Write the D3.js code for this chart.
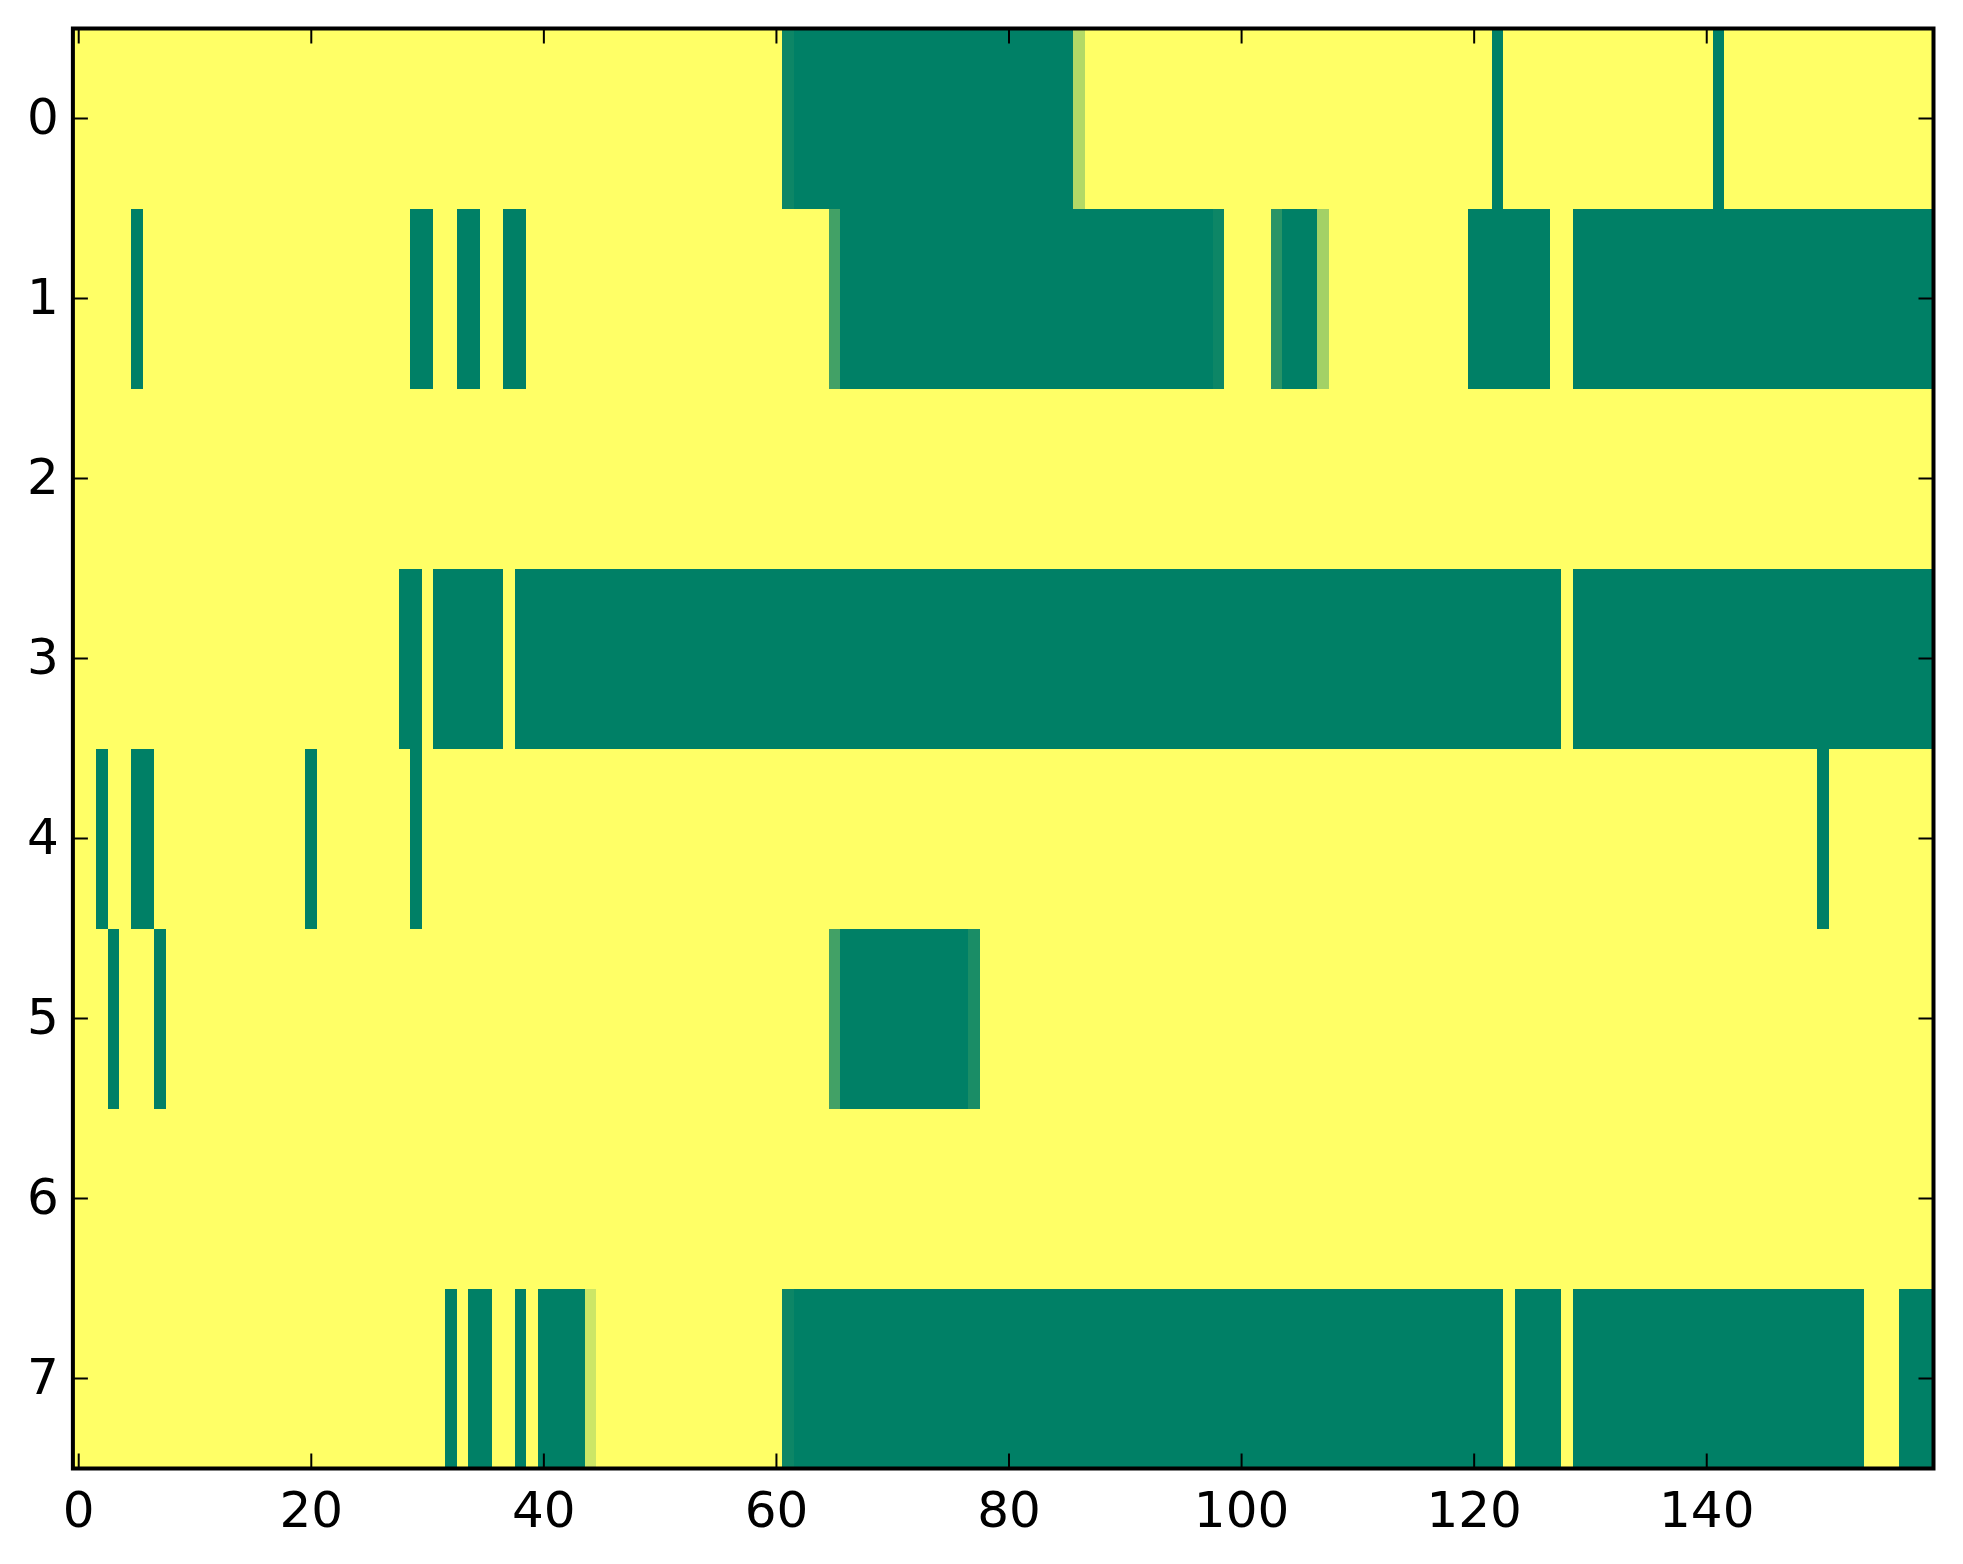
<!DOCTYPE html>
<html>
<head>
<meta charset="utf-8">
<script src="https://cdn.jsdelivr.net/npm/d3@7/dist/d3.min.js"></script>
<style>
  html, body { margin: 0; padding: 0; background: #ffffff; }
  svg { display: block; }
  text { font-family: "DejaVu Sans", sans-serif; }
</style>
</head>
<body>
<svg id="chart" width="1963" height="1564"></svg>
<script>
// Heatmap (imshow, "summer" colormap) — 8 rows x 160 columns.
// Each row is written as runs of [value, number of consecutive columns].
const rowLabels = [0, 1, 2, 3, 4, 5, 6, 7];
const xTickValues = [0, 20, 40, 60, 80, 100, 120, 140];
const nCols = 160;

const row0 = [[1,61],[0.05,1],[0,24],[0.7,1],[1,35],[0,1],[1,18],[0,1],[1,18]];
const row1 = [[1,5],[0,1],[1,23],[0,2],[1,2],[0,2],[1,2],[0,2],[1,26],[0.26,1],[0,32],[0.05,1],[1,4],[0.16,1],[0,3],[0.64,1],[1,12],[0,7],[1,2],[0,31]];
const row2 = [[1,160]];
const row3 = [[1,28],[0,2],[1,1],[0,6],[1,1],[0,90],[1,1],[0,31]];
const row4 = [[1,2],[0,1],[1,2],[0,2],[1,13],[0,1],[1,8],[0,1],[1,120],[0,1],[1,9]];
const row5 = [[1,3],[0,1],[1,3],[0,1],[1,57],[0.26,1],[0,11],[0.1,1],[1,82]];
const row6 = [[1,160]];
const row7 = [[1,32],[0,1],[1,1],[0,2],[1,2],[0,1],[1,1],[0,4],[0.8,1],[1,16],[0.05,1],[0,61],[1,1],[0,4],[1,1],[0,25],[1,3],[0,3]];

const rowsRuns = [row0, row1, row2, row3, row4, row5, row6, row7];

(function () {
  // expand runs into cells
  const cells = [];
  rowsRuns.forEach((runs, r) => {
    let c = 0;
    runs.forEach(([v, n]) => {
      for (let k = 0; k < n; k++) { cells.push({row: r, col: c, value: v}); c++; }
    });
  });

  const svg = d3.select("#chart");
  const pLeft = 72.9, pRight = 1933.5, pTop = 28.5, pBottom = 1468.5;

  const x = d3.scaleLinear().domain([-0.5, nCols - 0.5]).range([pLeft, pRight]);
  const y = d3.scaleLinear().domain([-0.5, rowLabels.length - 0.5]).range([pTop, pBottom]);
  const color = d3.scaleLinear().domain([0, 1]).range(["#008066", "#ffff66"]);

  // cells
  svg.append("g")
    .attr("shape-rendering", "crispEdges")
    .selectAll("rect")
    .data(cells)
    .join("rect")
    .attr("x", d => x(d.col - 0.5))
    .attr("y", d => y(d.row - 0.5))
    .attr("width", d => x(d.col + 0.5) - x(d.col - 0.5) + 0.6)
    .attr("height", d => y(d.row + 0.5) - y(d.row - 0.5) + 0.6)
    .attr("fill", d => color(d.value));

  const tickLen = 15;
  const axes = svg.append("g");

  // x ticks (bottom and top, inward)
  xTickValues.forEach(t => {
    axes.append("line")
      .attr("x1", x(t)).attr("x2", x(t))
      .attr("y1", pBottom).attr("y2", pBottom - tickLen)
      .attr("stroke", "#000").attr("stroke-width", 2);
    axes.append("line")
      .attr("x1", x(t)).attr("x2", x(t))
      .attr("y1", pTop).attr("y2", pTop + tickLen)
      .attr("stroke", "#000").attr("stroke-width", 2);
    axes.append("text")
      .attr("x", x(t)).attr("y", pBottom + 58)
      .attr("text-anchor", "middle")
      .attr("font-size", 50)
      .attr("fill", "#000")
      .text(t);
  });

  // y ticks (left and right, inward)
  rowLabels.forEach(t => {
    axes.append("line")
      .attr("x1", pLeft).attr("x2", pLeft + tickLen)
      .attr("y1", y(t)).attr("y2", y(t))
      .attr("stroke", "#000").attr("stroke-width", 2);
    axes.append("line")
      .attr("x1", pRight).attr("x2", pRight - tickLen)
      .attr("y1", y(t)).attr("y2", y(t))
      .attr("stroke", "#000").attr("stroke-width", 2);
    axes.append("text")
      .attr("x", pLeft - 14).attr("y", y(t) + 15)
      .attr("text-anchor", "end")
      .attr("font-size", 50)
      .attr("fill", "#000")
      .text(t);
  });

  // frame
  axes.append("rect")
    .attr("x", pLeft).attr("y", pTop)
    .attr("width", pRight - pLeft).attr("height", pBottom - pTop)
    .attr("fill", "none")
    .attr("stroke", "#000")
    .attr("stroke-width", 4);
})();
</script>
</body>
</html>
